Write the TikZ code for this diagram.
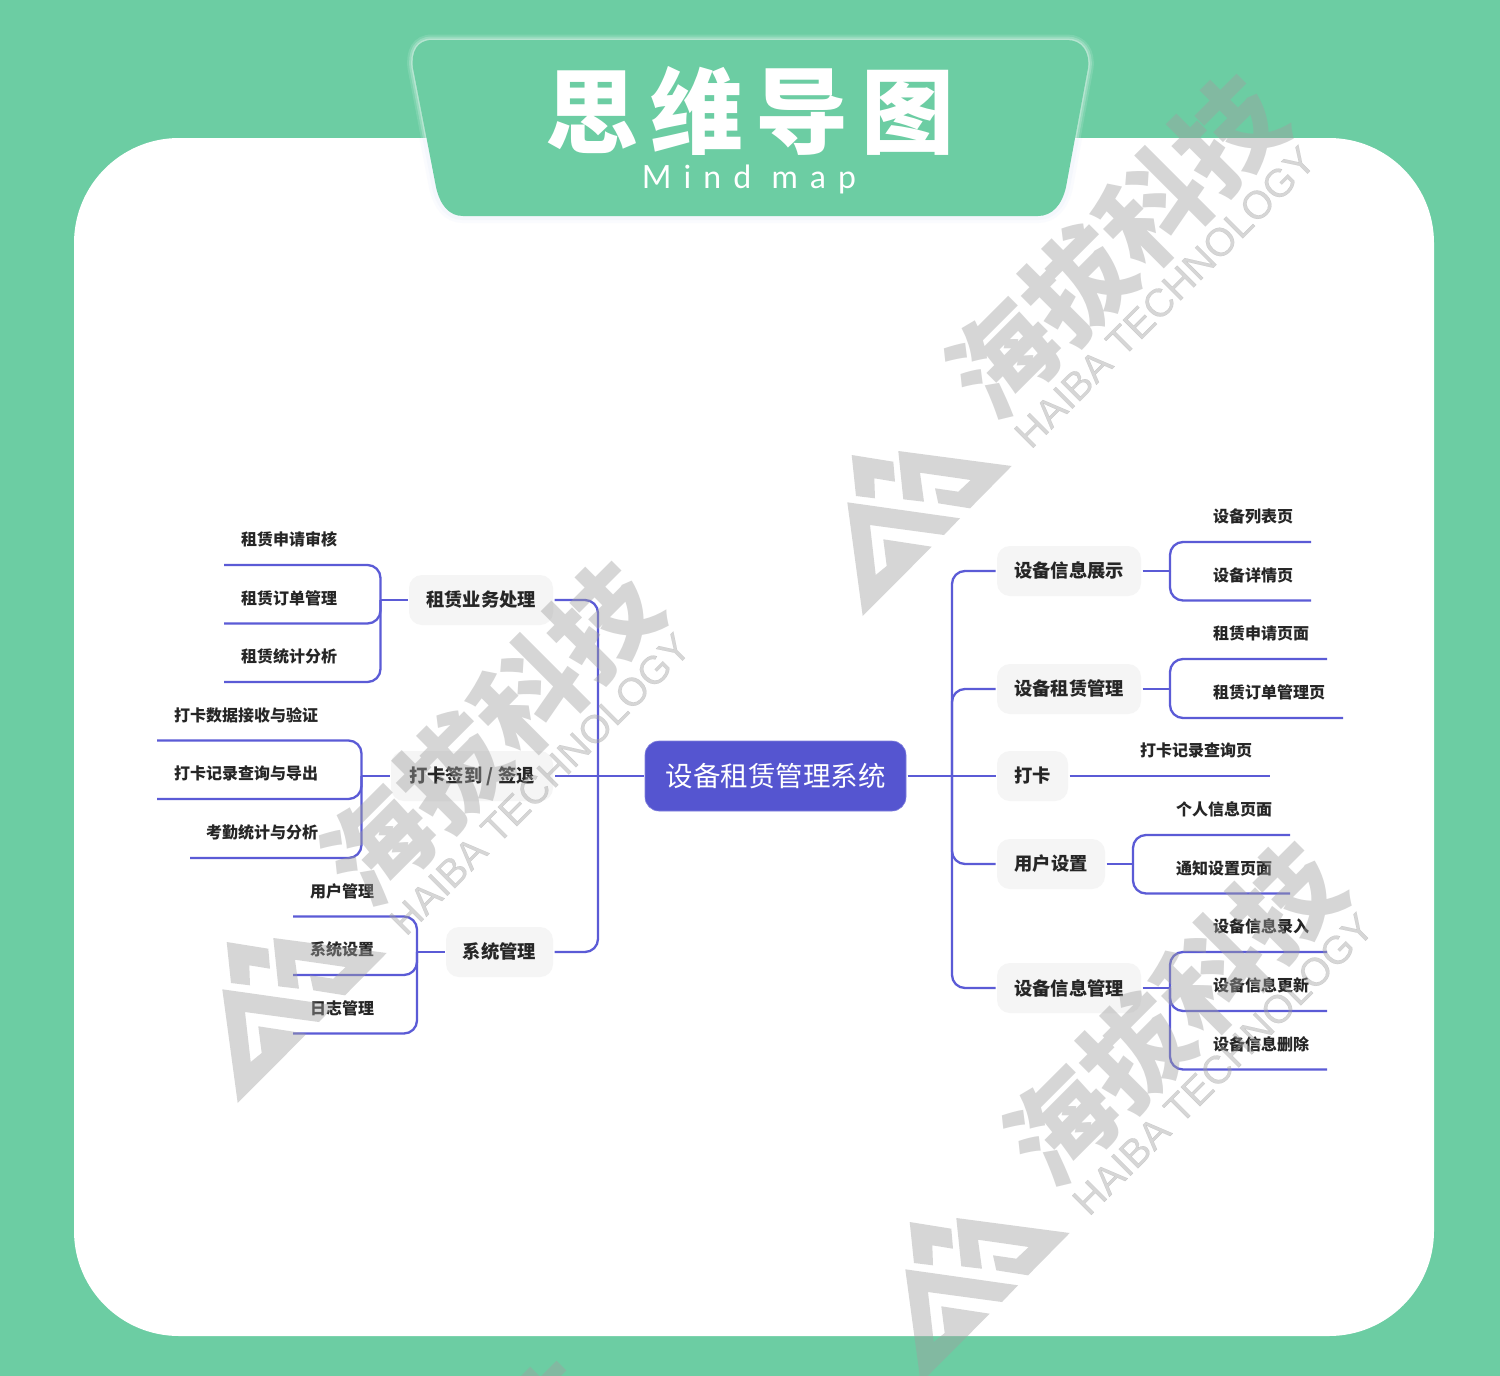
\documentclass[tikz,border=0pt]{standalone}
\usepackage{fontspec}
\newfontfamily\cjk{Noto Sans CJK SC}
\newfontfamily\cjkblack{Noto Sans CJK SC Black}
\newfontfamily\latinwm[FakeBold=0.4]{Liberation Sans}
\newfontfamily\latintitle[LetterSpace=38]{Lato}
\usetikzlibrary{calc}
\definecolor{bgreen}{HTML}{6CCDA3}
\definecolor{linkc}{HTML}{5B5BD6}
\definecolor{corec}{HTML}{5555D0}
\definecolor{boxc}{HTML}{F5F5F5}
\definecolor{inkc}{HTML}{262626}
\definecolor{wmc}{HTML}{A0A0A0}
\definecolor{haloc}{HTML}{E8EEFA}
\tikzset{
  link/.style={draw=linkc,line width=2.3pt,rounded corners=13pt},
  branch/.style={fill=boxc,rounded corners=13pt,inner sep=0pt,outer sep=1.5pt,minimum height=50pt,
    text=inkc,font=\cjk\bfseries\fontsize{18.3}{20}\selectfont},
  core/.style={fill=corec,draw=corec!75!white,line width=.6pt,rounded corners=14pt,inner sep=0pt,outer sep=1.5pt,minimum width=261pt,minimum height=70pt,
    text=white,font=\cjk\fontsize{27.5}{30}\selectfont},
  leaf/.style={inner sep=0pt,outer sep=0pt,minimum height=51pt,text=inkc,font=\cjk\bfseries\fontsize{16}{18}\selectfont},
  wmtext/.style={rotate=45,inner sep=0pt,text=wmc,text opacity=.43},
  wmshape/.style={fill=wmc,fill opacity=.43,draw=none},
}
\newcommand{\watermark}[2]{%
\begin{scope}[shift={(#1,#2)}]
  \fill[wmshape] (851.7,455)--(893.3,461.7)--(895,481.7)--(874.3,478.3)--(875,498.3)--(856,496)--cycle;
  \fill[wmshape] (898.3,451)--(1011.7,466)--(970,508.3)--(938.3,503.3)--(935,488.3)--(958.3,491.7)--(970.7,480)--(920,472.7)--(924,501.7)--(903.3,499.3)--cycle;
  \fill[wmshape] (847.3,502.3)--(960,518.3)--(944,535)--(870,525)--(875.7,575)--(886.7,566)--(883.3,539.3)--(931.7,546.7)--(862.7,616)--cycle;
  \node[wmtext,font=\cjkblack\fontsize{106}{110}\selectfont] at (1116,246) {海拔科技};
  \node[wmtext,font=\latinwm\fontsize{39.5}{42}\selectfont] at (1165,297) {HAIBA TECHNOLOGY};
\end{scope}}
\begin{document}
\begin{tikzpicture}[x=1pt,y=-1pt]
\useasboundingbox (0,0) rectangle (1500,1376);
\clip (0,0) rectangle (1500,1376);
\fill[bgreen] (0,0) rectangle (1500,1376);
\fill[white,rounded corners=105pt] (74,138) rectangle (1434,1336);
% title plate
\def\plate{(432,40) -- (1067,40) .. controls (1082,40) and (1090,52) .. (1088,68) -- (1066,187) .. controls (1062,205) and (1052,216) .. (1038,216) -- (463,216) .. controls (449,216) and (440,205) .. (436,187) -- (413,68) .. controls (411,52) and (417,40) .. (432,40) -- cycle}
\begin{scope}
  \clip (74,138) rectangle (1434,260);
  \draw[haloc,line width=14pt,opacity=.2] \plate;
  \draw[haloc,line width=8pt,opacity=.3] \plate;
\end{scope}
\begin{scope}
  \clip (0,0) rectangle (1500,138);
  \draw[white,line width=11pt,opacity=.12] \plate;
  \draw[white,line width=7pt,opacity=.2] \plate;
  \draw[white,line width=3pt,opacity=.3] \plate;
\end{scope}
\fill[bgreen] \plate;
\node[inner sep=0pt,text=white,font=\cjkblack\fontsize{93}{98}\selectfont\addfontfeature{LetterSpace=13}] (title) at (750,111) {思维导图};
\node[inner sep=0pt,text=white,font=\latintitle\fontsize{32}{34}\selectfont] (subtitle) at (749,179) {Mind map};
% centre
\node[core] (c) at (775.5,776) {\raisebox{2pt}{设备租赁管理系统}};
% branches
\node[branch,minimum width=144pt] (n1) at (481,600) {租赁业务处理};
\node[branch,minimum width=162pt] (n2) at (472,776) {打卡签到 / 签退};
\node[branch,minimum width=107pt] (n3) at (499.5,952) {系统管理};
\node[branch,minimum width=144pt] (r1) at (1069,571) {\raisebox{1.5pt}{设备信息展示}};
\node[branch,minimum width=144pt] (r2) at (1069,689) {\raisebox{1.5pt}{设备租赁管理}};
\node[branch,minimum width=71pt] (r3) at (1032.5,776) {打卡};
\node[branch,minimum width=108pt] (r4) at (1051,864) {用户设置};
\node[branch,minimum width=144pt] (r5) at (1069,988) {\raisebox{1.5pt}{设备信息管理}};
% junctions
\coordinate (busL) at (598,776);
\coordinate (busR) at (952,776);
\coordinate (j1) at (380.5,600);
\coordinate (j2) at (361.5,776);
\coordinate (j3) at (417,952);
\coordinate (ja) at (1170,571);
\coordinate (jb) at (1170,689);
\coordinate (jd) at (1133,864);
\coordinate (je) at (1170,988);
% leaves, left
\node[leaf,anchor=south west,minimum width=130pt] (a1) at (224,565) {租赁申请审核};
\node[leaf,anchor=south west,minimum width=130pt] (a2) at (224,623.5) {租赁订单管理};
\node[leaf,anchor=south west,minimum width=130pt] (a3) at (224,682) {租赁统计分析};
\node[leaf,anchor=south west,minimum width=178pt] (b1) at (157,740.5) {打卡数据接收与验证};
\node[leaf,anchor=south west,minimum width=178pt] (b2) at (157,799) {打卡记录查询与导出};
\node[leaf,anchor=south west,minimum width=144pt] (b3) at (190,858) {考勤统计与分析};
\node[leaf,anchor=south west,minimum width=98pt] (d1) at (293,916.5) {用户管理};
\node[leaf,anchor=south west,minimum width=98pt] (d2) at (293,975) {系统设置};
\node[leaf,anchor=south west,minimum width=98pt] (d3) at (293,1033.5) {日志管理};
% leaves, right
\node[leaf,anchor=south east,minimum width=116pt] (e1) at (1311,542) {设备列表页};
\node[leaf,anchor=south east,minimum width=116pt] (e2) at (1311,600.5) {设备详情页};
\node[leaf,anchor=south east,minimum width=132pt] (f1) at (1327,659) {租赁申请页面};
\node[leaf,anchor=south east,minimum width=148pt] (f2) at (1343,718) {租赁订单管理页};
\node[leaf,anchor=south east,minimum width=148pt] (g1) at (1270,776) {打卡记录查询页};
\node[leaf,anchor=south east,minimum width=132pt] (h1) at (1290,835) {个人信息页面};
\node[leaf,anchor=south east,minimum width=132pt] (h2) at (1290,893.5) {通知设置页面};
\node[leaf,anchor=south east,minimum width=132pt] (i1) at (1327,952) {设备信息录入};
\node[leaf,anchor=south east,minimum width=132pt] (i2) at (1327,1011) {设备信息更新};
\node[leaf,anchor=south east,minimum width=132pt] (i3) at (1327,1069.5) {设备信息删除};
% connectors centre to buses
\draw[link] (c.west) -- (n2.east);
\draw[link] (c.east) -- (r3.west);
\draw[link] (n1.east) -| (busL);
\draw[link] (n3.east) -| (busL);
\draw[link] (r1.west) -| (busR);
\draw[link] (r2.west) -| (busR);
\draw[link] (r4.west) -| (busR);
\draw[link] (r5.west) -| (busR);
% branch to junction
\draw[link] (n1.west) -- (j1);
\draw[link] (n2.west) -- (j2);
\draw[link] (n3.west) -- (j3);
\draw[link] (r1.east) -- (ja);
\draw[link] (r2.east) -- (jb);
\draw[link] (r4.east) -- (jd);
\draw[link] (r5.east) -- (je);
% leaf underlines
\foreach \n/\j in {a1/j1,a2/j1,a3/j1,b1/j2,b2/j2,b3/j2,d1/j3,d2/j3,d3/j3}
  \draw[link] (\n.south west) -| (\j);
\foreach \n/\j in {e1/ja,e2/ja,f1/jb,f2/jb,h1/jd,h2/jd,i1/je,i2/je,i3/je}
  \draw[link] (\n.south east) -| (\j);
\draw[link] (r3.east) -- (g1.south east);
% watermarks
\watermark{0}{0}
\watermark{-625}{487}
\watermark{58}{767}
\watermark{-680}{1287}
\end{tikzpicture}
\end{document}
